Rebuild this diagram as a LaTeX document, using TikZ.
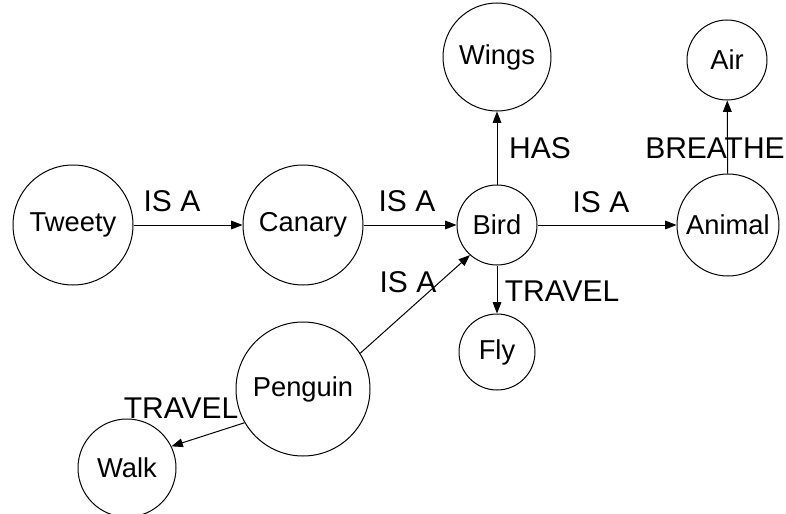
\documentclass[tikz,border=0pt]{standalone}
\usepackage{fontspec}
\setmainfont{Liberation Sans}
\usetikzlibrary{arrows.meta}
\tikzset{
  concept/.style={circle,draw,line width=0.75pt,inner sep=0pt,minimum size=#1,font=\fontsize{20.5}{24}\selectfont},
  rel/.style={-{Triangle[length=8.5pt,width=6.5pt]},line width=0.75pt},
  lbl/.style={inner sep=0pt,font=\fontsize{22.5}{26}\selectfont}
}
\begin{document}
\begin{tikzpicture}[x=0.75pt,y=0.75pt,yscale=-1,xscale=1]
  \useasboundingbox (0,0) rectangle (786,514);
  % Concepts
  \node[concept=90pt]    (tweety)  at (73,225)  {Tweety};
  \node[concept=90pt]    (canary)  at (303,225) {Canary};
  \node[concept=60pt]    (bird)    at (497,225) {Bird};
  \node[concept=76.5pt]  (animal)  at (728,225) {Animal};
  \node[concept=81pt]    (wings)   at (497,57)  {Wings};
  \node[concept=60pt]    (air)     at (727,60)  {Air};
  \node[concept=57pt]    (fly)     at (497,352) {Fly};
  \node[concept=100.5pt] (penguin) at (303,389) {Penguin};
  \node[concept=73.5pt]  (walk)    at (127,468) {Walk};
  % Relations
  \draw[rel] (tweety) -- (canary);
  \draw[rel] (canary) -- (bird);
  \draw[rel] (bird) -- (animal);
  \draw[rel] (bird) -- (wings);
  \draw[rel] (bird) -- (fly);
  \draw[rel] (animal) -- (air);
  \draw[rel] (penguin.32) -- (bird.228);
  \draw[rel] (penguin.210) -- (walk.26);
  % Relation labels
  \node[lbl] (isa1)    at (172,201) {IS A};
  \node[lbl] (isa2)    at (407,201) {IS A};
  \node[lbl] (isa3)    at (601,202) {IS A};
  \node[lbl] (isa4)    at (408,282) {IS A};
  \node[lbl] (has)     at (540,148) {HAS};
  \node[lbl] (breathe) at (715,148) {BREATHE};
  \node[lbl] (travel1) at (562,291) {TRAVEL};
  \node[lbl] (travel2) at (181,408) {TRAVEL};
\end{tikzpicture}
\end{document}
